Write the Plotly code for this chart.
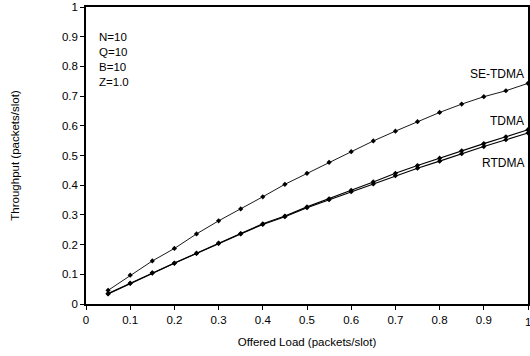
import plotly.graph_objects as go

offered_load = [0.05, 0.10, 0.15, 0.20, 0.25, 0.30, 0.35, 0.40, 0.45, 0.50,
                0.55, 0.60, 0.65, 0.70, 0.75, 0.80, 0.85, 0.90, 0.95, 1.00]
se_tdma = [0.046, 0.097, 0.145, 0.187, 0.236, 0.280, 0.320, 0.361, 0.403, 0.440,
           0.477, 0.513, 0.549, 0.582, 0.614, 0.645, 0.673, 0.698, 0.718, 0.743]
tdma = [0.035, 0.070, 0.105, 0.138, 0.171, 0.205, 0.237, 0.270, 0.296, 0.327,
        0.354, 0.383, 0.411, 0.440, 0.466, 0.491, 0.516, 0.540, 0.563, 0.587]
rtdma = [0.034, 0.069, 0.104, 0.137, 0.170, 0.204, 0.236, 0.268, 0.294, 0.324,
         0.351, 0.378, 0.404, 0.432, 0.457, 0.481, 0.506, 0.530, 0.553, 0.576]
series_names = ["SE-TDMA", "TDMA", "RTDMA"]
params = ["N=10", "Q=10", "B=10", "Z=1.0"]
x_ticks = [0, 0.1, 0.2, 0.3, 0.4, 0.5, 0.6, 0.7, 0.8, 0.9, 1]
y_ticks = [0, 0.1, 0.2, 0.3, 0.4, 0.5, 0.6, 0.7, 0.8, 0.9, 1]

FONT = "Liberation Sans, Arial, Helvetica, sans-serif"

fig = go.Figure()
for name, ys, w in zip(series_names, [se_tdma, tdma, rtdma], [0.9, 1.1, 1.1]):
    fig.add_trace(go.Scatter(
        x=offered_load, y=ys, mode="lines+markers", name=name,
        line=dict(color="black", width=w),
        marker=dict(symbol="diamond", size=4, color="black"),
        showlegend=False,
    ))

# series labels at right end
label_y = [0.775, 0.615, 0.475]
for name, yv in zip(series_names, label_y):
    fig.add_annotation(x=0.995, y=yv, xref="x", yref="y", text=name,
                       showarrow=False, xanchor="right", yanchor="middle",
                       font=dict(size=12, color="black", family=FONT))

fig.add_annotation(x=0.025, y=0.925, xref="x", yref="y",
                   text="<br>".join(params), showarrow=False,
                   xanchor="left", yanchor="top", align="left",
                   font=dict(size=11.5, color="black", family=FONT))

# last x tick label (partly cut at the right edge, as in the reference)
fig.add_annotation(x=x_ticks[-1], y=-0.061, xref="x", yref="paper",
                   text="%g" % x_ticks[-1], showarrow=False,
                   xanchor="center", yanchor="middle",
                   font=dict(size=11.5, color="black", family=FONT))

axis_common = dict(
    showgrid=False, zeroline=False, showline=True, linecolor="black",
    linewidth=1.6, mirror=True, ticks="outside", ticklen=4, tickwidth=1.2,
    tickcolor="black", tickfont=dict(size=11.5, color="black", family=FONT),
    automargin=False,
)
fig.update_xaxes(range=[0, 1], tickvals=x_ticks,
                 ticktext=[("%g" % v) for v in x_ticks],
                 title=dict(text="Offered Load (packets/slot)", standoff=13,
                            font=dict(size=11.5, color="black", family=FONT)),
                 **axis_common)
fig.update_yaxes(range=[0, 1], tickvals=y_ticks,
                 ticktext=[("%g" % v) for v in y_ticks],
                 title=dict(text="Throughput (packets/slot)", standoff=40,
                            font=dict(size=11.5, color="black", family=FONT)),
                 **axis_common)

fig.update_layout(
    width=530, height=356,
    margin=dict(l=86, r=2, t=7, b=52),
    paper_bgcolor="white", plot_bgcolor="white",
    font=dict(family=FONT, color="black"),
)
fig.write_html("out.html", config={"displayModeBar": False},
               post_script="document.body.style.margin='0';document.body.style.overflow='hidden';")
